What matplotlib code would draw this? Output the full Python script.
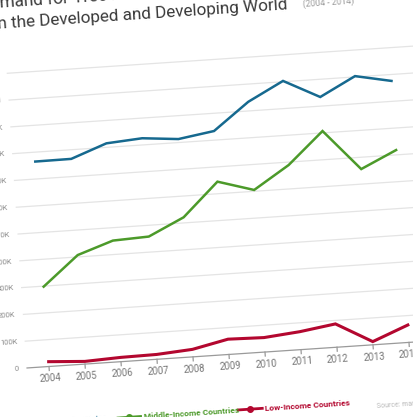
import numpy as np
import matplotlib
matplotlib.use("Agg")
import matplotlib.pyplot as plt
from matplotlib.transforms import Affine2D

# values (thousands of tonnes, roughly)
years = [2004, 2005, 2006, 2007, 2008, 2009, 2010, 2011, 2012, 2013, 2014]
high_income = [765, 766, 815, 825, 813, 834, 934, 1003, 934, 1003, 976]
middle_income = [298, 407, 452, 458, 521, 645, 605, 689, 807, 656, 718]
low_income = [18, 10, 16, 18, 28, 57, 54, 67, 87, 12, 65]
ytick_vals = [0, 100, 200, 300, 400, 500, 600, 700, 800, 900, 1000, 1100]
ytick_labels = ["0", "100K", "200K", "300K", "400K", "500K", "600K", "700K",
                "800K", "900K", "1M", "1.1M"]

BLUE = "#16698f"
GREEN = "#4c9a2a"
RED = "#b3072f"
GRID = "#e4e4e4"
TXT = "#8a8a8a"

plt.rcParams["font.family"] = ["Roboto", "DejaVu Sans"]

W, H, DPI = 414, 417, 100
fig = plt.figure(figsize=(W / DPI, H / DPI), dpi=DPI)
ax = fig.add_axes([0, 0, 1, 1])
ax.axis("off")

# the photo is tilted, so everything is drawn in a rotated frame
THETA = 3.83
x0, y0 = 49.0, 50.5          # 2004 on the baseline, in pixels
px_year = 36.08
px_k = 26.85 / 100.0         # pixels per thousand
ax.set_xlim(2004 - x0 / px_year, 2004 + (W - x0) / px_year)
ax.set_ylim(-y0 / px_k, (H - y0) / px_k)

rot = ax.transData + Affine2D().rotate_deg_around(x0, y0, THETA)
# frame in pixels relative to the 2004 baseline point (u right, v up)
pix = Affine2D().translate(x0, y0).rotate_deg_around(x0, y0, THETA)

def yr(u):
    return 2004 + u / px_year

def kv(v):
    return v / px_k

# grid
g0, g1 = yr(-22), yr(420)
for val, lab in zip(ytick_vals, ytick_labels):
    if val == 0:
        ax.plot([g0, yr(372)], [0, 0], color="#9a9a9a", lw=0.9, transform=rot, clip_on=False)
    else:
        ax.plot([g0, g1], [val, val], color=GRID, lw=0.9, transform=rot, clip_on=False)
    ax.text(yr(-30), val, lab, ha="right", va="center", fontsize=5.5, color=TXT,
            rotation=THETA, rotation_mode="anchor", transform=rot)

for y in years:
    ax.plot([y, y], [0, kv(-4)], color="#9a9a9a", lw=0.9, transform=rot, clip_on=False)
    ax.text(y, kv(-12), str(y), ha="center", va="center", fontsize=7, color="#777777",
            rotation=THETA, rotation_mode="anchor", transform=rot)

# series
ax.plot(years, high_income, color=BLUE, lw=1.8, transform=rot, clip_on=False,
        solid_joinstyle="miter")
ax.plot(years, middle_income, color=GREEN, lw=1.8, transform=rot, clip_on=False,
        solid_joinstyle="miter")
ax.plot(years, low_income, color=RED, lw=2.2, transform=rot, clip_on=False,
        solid_joinstyle="miter")

# title
ax.text(-45, 361, "Demand for Tree Nuts", fontsize=12.3, color="#3a3a3a",
        ha="left", va="baseline", rotation=THETA, rotation_mode="anchor", transform=pix)
ax.text(-33, 340, "in the Developed and Developing World", fontsize=12.3, color="#3a3a3a",
        ha="left", va="baseline", rotation=THETA, rotation_mode="anchor", transform=pix)
ax.text(277, 342, "(2004 - 2014)", fontsize=6.2, color="#9a9a9a",
        ha="left", va="baseline", rotation=THETA, rotation_mode="anchor", transform=pix)

# legend
legend = [("High-Income Countries", BLUE, -60),
          ("Middle-Income Countries", GREEN, 64),
          ("Low-Income Countries", RED, 186)]
for name, col, u in legend:
    ax.plot([u, u + 24], [-56, -56], color=col, lw=2.0, transform=pix, clip_on=False)
    ax.plot([u + 12], [-56], "o", color=col, ms=4, transform=pix, clip_on=False)
    ax.text(u + 27, -56, name, fontsize=6, color=col, fontweight="bold",
            ha="left", va="center", rotation=THETA, rotation_mode="anchor", transform=pix)

ax.text(324, -62, "Source: market intelligence", fontsize=5, color="#b8b8b8",
        ha="left", va="center", rotation=THETA, rotation_mode="anchor", transform=pix)

fig.savefig("out.png", dpi=DPI, facecolor="white")
